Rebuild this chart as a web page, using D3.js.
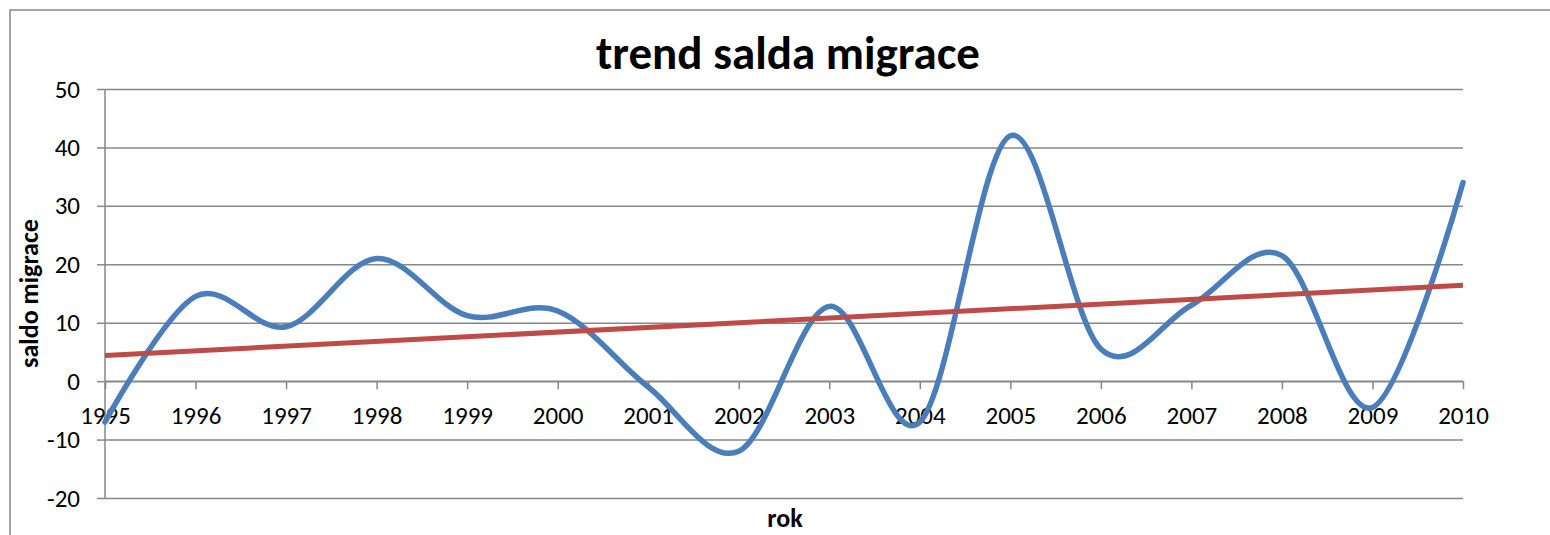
<!DOCTYPE html>
<html>
<head>
<meta charset="utf-8">
<script src="https://cdn.jsdelivr.net/npm/d3@7"></script>
<style>
  body { margin: 0; background: #fff; }
  svg { display: block; font-family: Calibri, Carlito, "Liberation Sans", Arial, sans-serif; }
</style>
</head>
<body>
<svg id="chart" width="1550" height="535"></svg>
<script>
// years on the category axis
const years = ["1995", "1996", "1997", "1998", "1999", "2000", "2001", "2002",
               "2003", "2004", "2005", "2006", "2007", "2008", "2009", "2010"];
// saldo migrace
const saldo = [-7, 14.5, 9.3, 21, 11.2, 12, -1, -12, 12.8, -7, 42, 5.5, 13, 21.5, -4.5, 34];
// linear trend, values at first and last year
const trendYears = ["1995", "2010"];
const trendValues = [4.4, 16.4];
const yTicks = [-20, -10, 0, 10, 20, 30, 40, 50];

const svg = d3.select("#chart");
const gridColor = "#878787";

// outer chart frame (runs off the right and bottom edge)
svg.append("rect")
  .attr("x", 10).attr("y", 10)
  .attr("width", 1600).attr("height", 600)
  .attr("fill", "none")
  .attr("stroke", gridColor)
  .attr("stroke-width", 1.5);

const plotLeft = 105, plotRight = 1463, plotTop = 89, plotBottom = 498;

const x = d3.scalePoint().domain(years).range([plotLeft, plotRight]);
const y = d3.scaleLinear().domain([-20, 50]).range([plotBottom, plotTop]);

// horizontal gridlines + left tick marks
svg.append("g")
  .attr("transform", `translate(${plotLeft},0)`)
  .call(d3.axisLeft(y).tickValues(yTicks).tickSize(8).tickFormat(d => d).tickPadding(17))
  .attr("font-family", null)
  .call(g => g.select(".domain").remove())
  .call(g => g.selectAll(".tick line").attr("stroke", gridColor).attr("stroke-width", 1.5))
  .call(g => g.selectAll(".tick text").attr("font-size", 25).attr("fill", "#000"))
  .call(g => g.selectAll(".tick").append("line")
    .attr("x1", 0).attr("x2", plotRight - plotLeft)
    .attr("stroke", gridColor).attr("stroke-width", 1.5));

// vertical axis line
svg.append("line")
  .attr("x1", plotLeft).attr("x2", plotLeft)
  .attr("y1", plotTop).attr("y2", plotBottom)
  .attr("stroke", gridColor).attr("stroke-width", 1.5);

// category axis sitting on zero
svg.append("g")
  .attr("transform", `translate(0,${y(0)})`)
  .call(d3.axisBottom(x).tickSize(8).tickPadding(17))
  .attr("font-family", null)
  .call(g => g.select(".domain").remove())
  .call(g => g.selectAll(".tick line").attr("stroke", gridColor).attr("stroke-width", 1.5))
  .call(g => g.selectAll(".tick text").attr("font-size", 25).attr("fill", "#000"));

svg.append("line")
  .attr("x1", plotLeft).attr("x2", plotRight)
  .attr("y1", y(0)).attr("y2", y(0))
  .attr("stroke", gridColor).attr("stroke-width", 1.5);

// smoothed series
const line = d3.line()
  .x((d, i) => x(years[i]))
  .y(d => y(d))
  .curve(d3.curveCardinal.tension(0));

svg.append("path")
  .datum(saldo)
  .attr("d", line)
  .attr("fill", "none")
  .attr("stroke", "#4a7ebb")
  .attr("stroke-width", 5.5)
  .attr("stroke-linecap", "round");

// trend line
svg.append("path")
  .datum(trendValues)
  .attr("d", d3.line().x((d, i) => x(trendYears[i])).y(d => y(d)))
  .attr("fill", "none")
  .attr("stroke", "#be4b48")
  .attr("stroke-width", 5);

// titles
svg.append("text")
  .attr("x", 788).attr("y", 69)
  .attr("text-anchor", "middle")
  .attr("font-size", 47).attr("font-weight", "bold")
  .text("trend salda migrace");

svg.append("text")
  .attr("transform", `translate(38,${(plotTop + plotBottom) / 2}) rotate(-90)`)
  .attr("text-anchor", "middle")
  .attr("font-size", 26).attr("font-weight", "bold")
  .text("saldo migrace");

svg.append("text")
  .attr("x", 785).attr("y", 527)
  .attr("text-anchor", "middle")
  .attr("font-size", 26).attr("font-weight", "bold")
  .text("rok");
</script>
</body>
</html>
